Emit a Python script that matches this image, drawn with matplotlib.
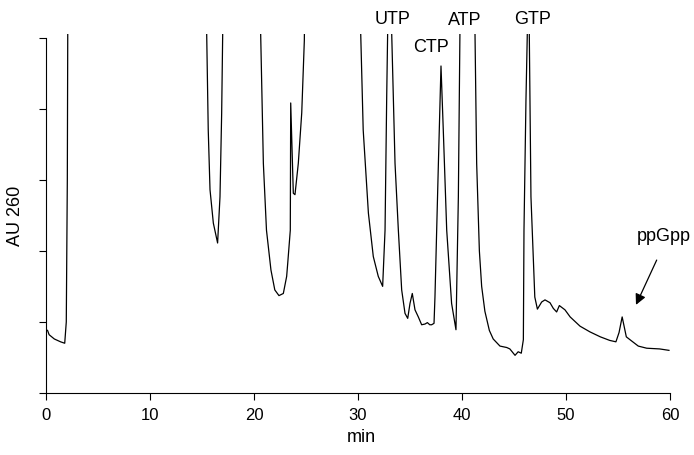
import matplotlib
matplotlib.use("Agg")
import matplotlib.pyplot as plt

plt.rcParams['font.family'] = ['Liberation Sans', 'DejaVu Sans']

# chromatogram trace (min, AU); values above ~5 are off-scale peaks
time_min = [0.0, 0.15, 0.3, 0.8, 1.4, 1.8, 1.95, 2.05, 2.15, 2.3,
            15.2, 15.45, 15.6, 15.77, 16.09, 16.5, 16.73, 16.89, 16.99, 17.2,
            20.4, 20.64, 20.9, 21.2, 21.63, 22.0, 22.4, 22.82, 23.14, 23.24,
            23.49, 23.53, 23.78, 23.94, 24.26, 24.59, 24.84, 25.1,
            30.0, 30.26, 30.5, 31.0, 31.47, 31.95, 32.37, 32.6, 32.76, 32.85, 33.0,
            33.1, 33.24, 33.56, 33.88, 34.2, 34.52, 34.78, 35.0, 35.22, 35.48,
            35.8, 36.12, 36.44, 36.67, 36.9, 37.08, 37.31, 37.4, 37.73, 37.98,
            38.2, 38.53, 39.0, 39.42, 39.65, 39.8, 40.0,
            41.1, 41.25, 41.41, 41.67, 41.89, 42.2, 42.63, 43.0, 43.65, 44.3,
            44.6, 45.1, 45.4, 45.7, 45.9, 45.96, 46.15, 46.28, 46.35,
            46.42, 46.47, 46.63, 47.0, 47.25, 47.66, 47.98, 48.46, 48.78, 49.1,
            49.36, 49.9, 50.4, 51.35, 52.3, 53.3, 54.2, 54.8, 55.1, 55.4,
            55.8, 56.15, 56.95, 57.76, 59.0, 59.9]
au_260 = [0.89, 0.88, 0.82, 0.76, 0.72, 0.70, 1.0, 3.0, 8.0, 9.0,
          9.0, 5.06, 3.70, 2.86, 2.39, 2.11, 2.76, 3.93, 5.06, 9.0,
          9.0, 5.06, 3.23, 2.29, 1.73, 1.45, 1.37, 1.40, 1.64, 1.82,
          2.29, 4.08, 2.81, 2.79, 3.23, 3.94, 4.96, 9.0,
          9.0, 5.06, 3.70, 2.53, 1.92, 1.64, 1.50, 2.29, 4.17, 5.06, 10.0,
          10.0, 5.06, 3.23, 2.29, 1.45, 1.12, 1.05, 1.26, 1.40, 1.17,
          1.07, 0.96, 0.97, 0.99, 0.96, 0.96, 0.98, 1.35, 3.23, 4.60,
          3.70, 2.29, 1.26, 0.89, 2.76, 5.06, 10.0,
          10.0, 5.06, 3.23, 2.0, 1.5, 1.15, 0.88, 0.76, 0.66, 0.64,
          0.62, 0.53, 0.58, 0.56, 0.75, 2.29, 4.12, 5.06, 10.0,
          10.0, 5.06, 2.76, 1.35, 1.18, 1.28, 1.31, 1.27, 1.19, 1.14,
          1.23, 1.17, 1.07, 0.94, 0.86, 0.79, 0.74, 0.72, 0.85, 1.07,
          0.79, 0.75, 0.66, 0.63, 0.62, 0.60]

peak_names = ['UTP', 'CTP', 'ATP', 'GTP']
peak_label_x = [33.34, 37.0, 40.3, 46.78]
peak_label_y = [5.19, 4.80, 5.18, 5.19]

fig = plt.figure(figsize=(6.94, 4.55), dpi=100)
ax = fig.add_axes([46 / 694, 1 - 393 / 455, 624 / 694, 359 / 455])

ax.plot(time_min, au_260, color='black', lw=0.9)
ax.set_xlim(0, 60)
ax.set_ylim(0, 5.05)

ax.spines['top'].set_visible(False)
ax.spines['right'].set_visible(False)
ax.spines['left'].set_bounds(0, 5)
ax.set_xticks(range(0, 61, 10))
ax.set_yticks(range(0, 6))
ax.set_yticklabels([])
ax.tick_params(axis='both', direction='out', length=5, width=0.8, labelsize=12)
ax.tick_params(axis='x', pad=6)

ax.set_xlabel('min', fontsize=13)
ax.xaxis.set_label_coords(0.506, -0.1)
ax.set_ylabel('AU 260', fontsize=13)
ax.yaxis.set_label_coords(-0.035, 0.493)

for name, x, y in zip(peak_names, peak_label_x, peak_label_y):
    ax.text(x, y, name, ha='center', va='baseline', fontsize=13, clip_on=False)

ax.text(59.4, 2.14, 'ppGpp', ha='center', va='baseline', fontsize=13, clip_on=False)
ax.annotate('', xy=(56.73, 1.24), xytext=(58.72, 1.87),
            arrowprops=dict(arrowstyle='-|>', color='black', lw=0.9,
                            mutation_scale=16, shrinkA=0, shrinkB=0))

fig.savefig('out.png', dpi=100)
